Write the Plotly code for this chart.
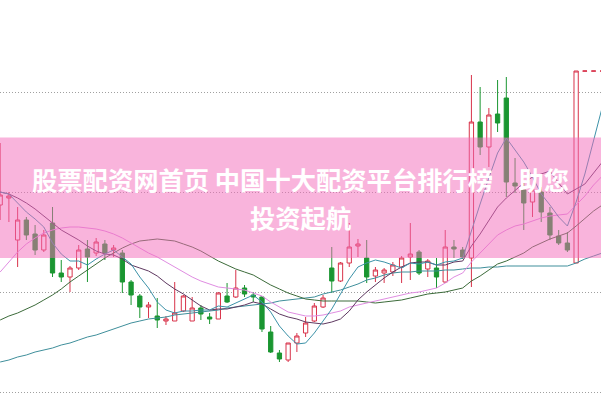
import plotly.graph_objects as go

# ---------------- data (prices) ----------------
idx = list(range(70))

open_ = [11.95, 12.02, 11.60, 11.80, 11.66, 11.50, 11.77, 11.27, 11.23, 11.32,
         11.51, 11.47, 11.56, 11.50, 11.47, 11.18, 11.04, 10.93, 10.84, 10.79,
         10.79, 10.89, 10.79, 10.92, 10.83, 10.81, 11.04, 11.03, 11.12, 11.05,
         11.03, 10.68, 10.47, 10.40, 10.57, 10.67, 10.79, 10.93, 11.32, 11.19,
         11.37, 11.54, 11.42, 11.24, 11.27, 11.28, 11.33, 11.43, 11.48, 11.31,
         11.32, 11.18, 11.53, 11.50, 11.42, 12.78, 12.53, 12.86, 13.02, 12.17,
         12.10, 11.98, 12.08, 11.87, 11.64, 11.57, 11.37, 13.289, 13.289, 13.289]
high = [12.57, 12.08, 11.93, 11.83, 11.75, 11.70, 11.93, 11.40, 11.34, 11.55,
        11.60, 11.62, 11.60, 11.55, 11.50, 11.20, 11.06, 10.98, 11.02, 10.84,
        11.18, 11.05, 11.03, 10.95, 10.87, 11.08, 11.17, 11.30, 11.15, 11.08,
        11.04, 10.74, 10.50, 10.57, 10.67, 10.83, 10.97, 11.05, 11.53, 11.38,
        11.77, 11.61, 11.60, 11.33, 11.32, 11.38, 11.44, 11.77, 11.50, 11.41,
        11.42, 11.70, 11.60, 11.53, 13.25, 13.13, 12.92, 13.20, 13.23, 12.42,
        12.18, 12.15, 12.13, 11.93, 11.70, 11.68, 13.29, 13.29, 13.29, 13.29]
low = [11.80, 11.78, 11.33, 11.60, 11.45, 11.48, 11.23, 11.18, 11.08, 11.30,
       11.18, 11.44, 11.40, 11.43, 11.07, 10.95, 10.82, 10.82, 10.72, 10.75,
       10.79, 10.88, 10.79, 10.80, 10.76, 10.81, 10.97, 11.02, 11.03, 10.98,
       10.68, 10.47, 10.38, 10.38, 10.48, 10.63, 10.78, 10.92, 11.07, 11.18,
       11.33, 11.43, 11.17, 11.18, 11.17, 11.24, 11.17, 11.20, 11.25, 11.23,
       11.12, 11.17, 11.42, 11.41, 11.13, 12.45, 12.33, 12.68, 12.03, 12.07,
       11.70, 11.83, 11.78, 11.60, 11.55, 11.48, 11.37, 13.289, 13.289, 13.289]
close = [12.05, 12.04, 11.80, 11.65, 11.50, 11.65, 11.27, 11.23, 11.32, 11.50,
         11.43, 11.58, 11.47, 11.52, 11.18, 11.05, 10.93, 10.95, 10.80, 10.81,
         10.87, 11.04, 10.92, 10.86, 10.81, 11.07, 10.98, 11.12, 11.06, 11.03,
         10.71, 10.48, 10.41, 10.57, 10.64, 10.77, 10.94, 11.02, 11.19, 11.37,
         11.53, 11.56, 11.23, 11.30, 11.30, 11.35, 11.42, 11.46, 11.27, 11.39,
         11.23, 11.53, 11.51, 11.43, 12.78, 12.53, 12.85, 12.77, 12.18, 12.14,
         11.97, 12.10, 11.88, 11.65, 11.57, 11.50, 13.29, 13.29, 13.29, 13.29]

ma5 = [12.08, 12.06, 11.97, 11.88, 11.81, 11.73, 11.57, 11.46, 11.39, 11.39,
       11.35, 11.41, 11.46, 11.50, 11.43, 11.36, 11.23, 11.12, 10.98, 10.90,
       10.87, 10.89, 10.89, 10.90, 10.90, 10.94, 10.93, 10.97, 11.01, 11.05,
       10.98, 10.88, 10.74, 10.64, 10.56, 10.57, 10.67, 10.79, 10.91, 11.06,
       11.21, 11.33, 11.37, 11.40, 11.38, 11.35, 11.32, 11.37, 11.36, 11.38,
       11.35, 11.38, 11.39, 11.42, 11.70, 11.96, 12.22, 12.47, 12.62, 12.50,
       12.38, 12.23, 12.06, 11.95, 11.83, 11.74, 11.98, 12.26, 12.59, 12.93]
ma10 = [12.08, 12.06, 12.02, 11.97, 11.91, 11.84, 11.77, 11.70, 11.65, 11.60,
        11.54, 11.49, 11.46, 11.45, 11.41, 11.35, 11.32, 11.29, 11.24, 11.17,
        11.11, 11.06, 11.00, 10.94, 10.90, 10.91, 10.91, 10.93, 10.95, 10.98,
        10.96, 10.91, 10.86, 10.83, 10.81, 10.78, 10.77, 10.76, 10.78, 10.81,
        10.89, 11.00, 11.08, 11.15, 11.22, 11.28, 11.33, 11.37, 11.38, 11.38,
        11.35, 11.35, 11.38, 11.39, 11.54, 11.66, 11.80, 11.93, 12.02, 12.10,
        12.17, 12.23, 12.26, 12.29, 12.17, 12.06, 12.11, 12.16, 12.27, 12.38]
ma20 = [11.28, 11.38, 11.48, 11.56, 11.62, 11.67, 11.70, 11.72, 11.73, 11.73,
        11.72, 11.71, 11.69, 11.66, 11.62, 11.57, 11.52, 11.47, 11.43, 11.38,
        11.33, 11.28, 11.23, 11.19, 11.16, 11.13, 11.12, 11.11, 11.10, 11.07,
        11.04, 10.98, 10.93, 10.88, 10.86, 10.84, 10.84, 10.85, 10.87, 10.89,
        10.93, 10.95, 10.97, 10.99, 11.01, 11.03, 11.05, 11.07, 11.08, 11.10,
        11.12, 11.17, 11.23, 11.27, 11.38, 11.47, 11.56, 11.65, 11.70, 11.74,
        11.76, 11.79, 11.82, 11.84, 11.85, 11.86, 11.95, 12.04, 12.15, 12.24]
ma30 = [10.80, 10.84, 10.87, 10.91, 10.95, 11.00, 11.05, 11.11, 11.18, 11.24,
        11.30, 11.36, 11.42, 11.47, 11.52, 11.56, 11.59, 11.60, 11.61, 11.60,
        11.59, 11.56, 11.53, 11.49, 11.44, 11.39, 11.35, 11.31, 11.28, 11.25,
        11.20, 11.15, 11.11, 11.07, 11.04, 11.01, 11.00, 10.99, 10.99, 10.99,
        10.99, 10.99, 10.98, 10.97, 10.98, 10.99, 11.00, 11.02, 11.04, 11.06,
        11.07, 11.08, 11.10, 11.12, 11.19, 11.24, 11.30, 11.36, 11.39, 11.43,
        11.47, 11.53, 11.57, 11.61, 11.64, 11.67, 11.74, 11.82, 11.89, 11.95]
ma60 = [10.38, 10.40, 10.43, 10.45, 10.48, 10.50, 10.52, 10.55, 10.57, 10.60,
        10.63, 10.65, 10.68, 10.71, 10.74, 10.77, 10.79, 10.81, 10.82, 10.83,
        10.85, 10.86, 10.87, 10.88, 10.89, 10.90, 10.92, 10.93, 10.94, 10.95,
        10.96, 10.97, 10.99, 11.00, 11.01, 11.02, 11.03, 11.06, 11.08, 11.10,
        11.13, 11.16, 11.20, 11.22, 11.25, 11.27, 11.28, 11.28, 11.29, 11.29,
        11.29, 11.30, 11.30, 11.31, 11.32, 11.32, 11.33, 11.33, 11.34, 11.34,
        11.34, 11.34, 11.34, 11.34, 11.34, 11.34, 11.37, 11.41, 11.44, 11.47]

title_line1 = "股票配资网首页 中国十大配资平台排行榜\u3000助您"
title_line2 = "投资起航"

RED = "#d8334a"
GREEN = "#1a9631"

fig = go.Figure()
fig.add_trace(go.Candlestick(
    x=idx, open=open_, high=high, low=low, close=close,
    increasing=dict(line=dict(color=RED, width=1), fillcolor="white"),
    decreasing=dict(line=dict(color=GREEN, width=1), fillcolor=GREEN),
    whiskerwidth=0, showlegend=False, hoverinfo="skip",
))

ma_styles = [
    (ma60, "#3f8f9b"),
    (ma30, "#3c6b3a"),
    (ma20, "#e08de2"),
    (ma10, "#5e3860"),
    (ma5, "#3c92a8"),
]
for vals, col in ma_styles:
    fig.add_trace(go.Scatter(x=idx, y=vals, mode="lines",
                             line=dict(color=col, width=1),
                             showlegend=False, hoverinfo="skip"))

fig.update_layout(
    width=601, height=397,
    margin=dict(l=0, r=0, t=0, b=0),
    paper_bgcolor="white", plot_bgcolor="white",
    xaxis=dict(range=[-0.02, 68.85], showgrid=False, zeroline=False,
               showticklabels=False, rangeslider=dict(visible=False),
               fixedrange=True),
    yaxis=dict(range=[10.03, 14.0], showgrid=True, gridcolor="#a0a0a0",
               griddash="1px,2px", gridwidth=1, tick0=0.08, dtick=1,
               zeroline=False, showticklabels=False, fixedrange=True),
    shapes=[dict(type="rect", xref="paper", yref="paper",
                 x0=0, x1=1, y0=1 - 258 / 397, y1=1 - 137.5 / 397,
                 fillcolor="rgba(243,105,185,0.5)", line=dict(width=0),
                 layer="above")],
    annotations=[
        dict(text=title_line1, xref="paper", yref="paper", x=0.5,
             y=1 - 179 / 397, xanchor="center", yanchor="middle",
             showarrow=False,
             font=dict(family="Noto Sans CJK SC", size=25.3, color="white",
                       weight="bold")),
        dict(text=title_line2, xref="paper", yref="paper", x=0.5,
             y=1 - 217 / 397, xanchor="center", yanchor="middle",
             showarrow=False,
             font=dict(family="Noto Sans CJK SC", size=25.3, color="white",
                       weight="bold")),
    ],
)

fig.write_html("out.html", config={"displayModeBar": False})
